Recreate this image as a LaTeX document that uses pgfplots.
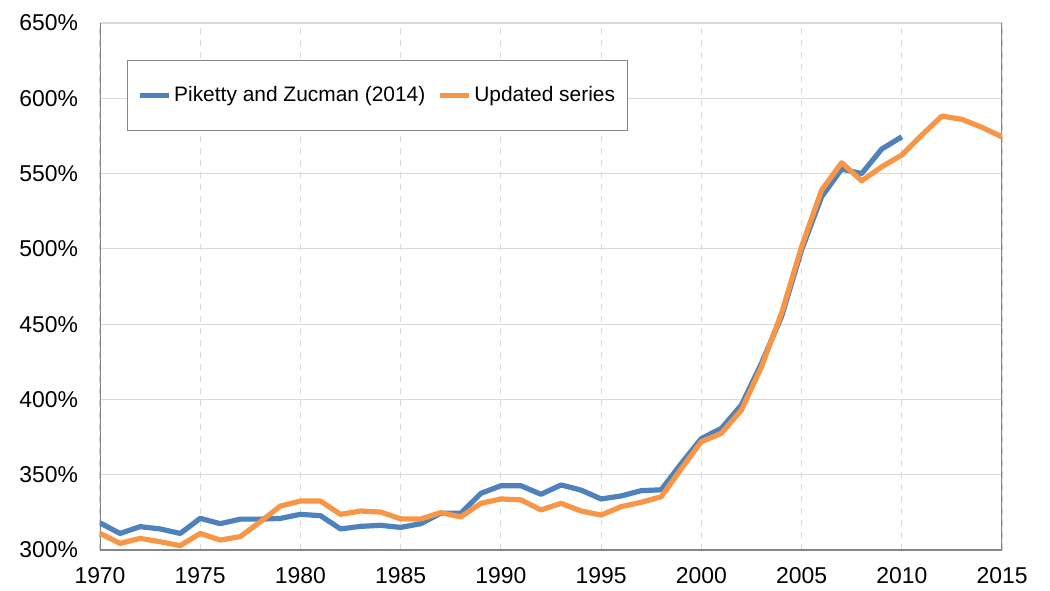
\documentclass[border=0pt]{standalone}
\usepackage{fontspec}
\setmainfont{Liberation Sans}
\usepackage{pgfplots}
\pgfplotsset{compat=1.18}
\definecolor{pzblue}{RGB}{79,129,189}
\definecolor{uporange}{RGB}{247,150,70}
\definecolor{gridgray}{RGB}{217,217,217}
\definecolor{axgray}{RGB}{134,134,134}

\begin{document}
\begin{tikzpicture}
\begin{axis}[
    name=ax,
    scale only axis,
    width=451bp, height=263.5bp,
    xmin=1970, xmax=2015, ymin=300, ymax=650,
    xtick={1970,1975,...,2015},
    ytick={300,350,...,650},
    /pgf/number format/assume math mode=true,
    /pgf/number format/1000 sep={},
    yticklabel={\pgfmathprintnumber{\tick}\%},
    tick label style={font=\fontsize{11.5}{13}\selectfont},
    yticklabel style={xshift=-7.5bp},
    xticklabel style={yshift=-5bp},
    major tick length=0pt,
    axis line style={draw=none},
    grid=major,
    x grid style={gridgray, dash pattern=on 3bp off 3bp, line width=0.6bp},
    y grid style={gridgray, line width=0.6bp},
    legend style={
        at={(0.0299,0.9298)}, anchor=north west,
        draw=axgray, line width=0.6bp,
        inner xsep=5bp, inner ysep=11bp,
        font=\fontsize{10.5}{12}\selectfont,
        legend columns=2,
        nodes={inner xsep=1.2bp},
    },
    /tikz/every even column/.append style={column sep=5bp},
    legend image code/.code={\draw[#1] (0bp,0bp) -- (14.5bp,0bp);},
    every axis plot/.append style={line width=2.6bp, line join=round},
]
\draw[axgray, line width=0.8bp] (rel axis cs:0,1) -- (rel axis cs:0,0) -- (rel axis cs:1,0) -- (rel axis cs:1,1);

\addplot[pzblue] coordinates {
(1970,318.0) (1971,311.0) (1972,315.5) (1973,314.0) (1974,311.0)
(1975,321.0) (1976,317.5) (1977,320.5) (1978,320.5) (1979,321.0)
(1980,323.7) (1981,322.8) (1982,314.0) (1983,315.7) (1984,316.4)
(1985,315.0) (1986,317.5) (1987,324.4) (1988,324.4) (1989,337.6)
(1990,342.7) (1991,342.7) (1992,337.0) (1993,343.2) (1994,339.8)
(1995,333.9) (1996,335.9) (1997,339.4) (1998,340.0) (1999,357.5)
(2000,374.0) (2001,380.8) (2002,396.3) (2003,424.0) (2004,455.0)
(2005,499.2) (2006,534.6) (2007,553.0) (2008,550.0) (2009,566.3)
(2010,574.4)
};
\addlegendentry{Piketty and Zucman (2014)}

\addplot[uporange] coordinates {
(1970,311.0) (1971,304.4) (1972,307.7) (1973,305.5) (1974,302.9)
(1975,311.0) (1976,306.6) (1977,308.9) (1978,318.8) (1979,329.2)
(1980,332.5) (1981,332.5) (1982,323.7) (1983,325.9) (1984,325.2)
(1985,320.7) (1986,320.6) (1987,324.8) (1988,322.0) (1989,331.0)
(1990,333.9) (1991,333.3) (1992,326.6) (1993,331.0) (1994,325.9)
(1995,323.2) (1996,328.8) (1997,331.7) (1998,335.4) (1999,354.0)
(2000,372.0) (2001,377.5) (2002,393.0) (2003,421.7) (2004,457.2)
(2005,501.4) (2006,539.0) (2007,557.2) (2008,545.2) (2009,554.5)
(2010,562.3) (2011,575.6) (2012,588.2) (2013,586.0) (2014,580.7)
(2015,574.4)
};
\addlegendentry{Updated series}
\end{axis}
\path ([xshift=-50bp,yshift=-20bp]ax.south west) rectangle ([xshift=24bp,yshift=11.5bp]ax.north east);
\end{tikzpicture}
\end{document}
